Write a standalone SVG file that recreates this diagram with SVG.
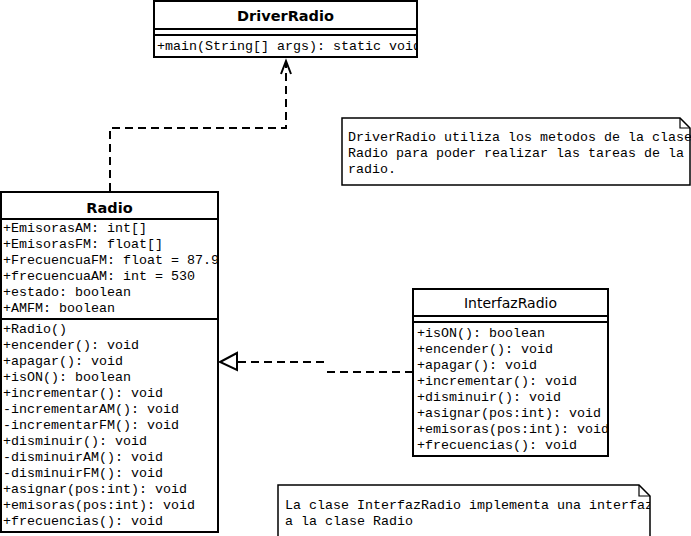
<svg xmlns="http://www.w3.org/2000/svg" width="691" height="536" viewBox="0 0 691 536">
<defs>
<style>
.box{fill:#fff;stroke:#000;stroke-width:2}
.sep{stroke:#000;stroke-width:2}
.title{font-family:"DejaVu Sans",sans-serif;font-size:14.5px;text-anchor:middle;fill:#000}
.b{font-weight:bold}
.m{font-family:"Liberation Mono","Courier New",monospace;font-size:13.33px;fill:#000}
.conn{fill:none;stroke:#000;stroke-width:2;stroke-dasharray:8 5}
.note{fill:#fff;stroke:#000;stroke-width:1.5}
</style>
<clipPath id="cDR"><rect x="154" y="1" width="263" height="56"/></clipPath>
<clipPath id="cR"><rect x="1" y="192" width="217" height="340"/></clipPath>
<clipPath id="cI"><rect x="413" y="289" width="195" height="167"/></clipPath>
<clipPath id="cN1"><rect x="342" y="118" width="349" height="67"/></clipPath>
<clipPath id="cN2"><rect x="278" y="485" width="372" height="51"/></clipPath>
</defs>
<rect width="691" height="536" fill="#fff"/>

<g id="connectors">
<path class="conn" d="M110 191 V128 H286 V63"/>
<path d="M281 74 L286 61 L291 74" fill="none" stroke="#000" stroke-width="2"/>
<path class="conn" d="M413 372 H324 M324 362 H237"/>
<path d="M237 353 L220 362 L237 370 Z" fill="#fff" stroke="#000" stroke-width="2"/>
</g>

<g id="DriverRadio">
<rect class="box" x="154" y="1" width="263" height="56"/>
<line class="sep" x1="154" y1="29" x2="417" y2="29"/>
<line class="sep" x1="154" y1="35" x2="417" y2="35"/>
<text class="title b" x="285.5" y="21">DriverRadio</text>
<g clip-path="url(#cDR)"><text class="m" x="157" y="50">+main(String[] args): static void</text></g>
</g>

<g id="Radio">
<rect class="box" x="1" y="192" width="217" height="340"/>
<line class="sep" x1="1" y1="219" x2="218" y2="219"/>
<line class="sep" x1="1" y1="319" x2="218" y2="319"/>
<text class="title b" x="109.5" y="213">Radio</text>
<g clip-path="url(#cR)" class="m">
<text x="3" y="232">+EmisorasAM: int[]</text>
<text x="3" y="248">+EmisorasFM: float[]</text>
<text x="3" y="264">+FrecuencuaFM: float = 87.9</text>
<text x="3" y="280">+frecuencuaAM: int = 530</text>
<text x="3" y="296">+estado: boolean</text>
<text x="3" y="312">+AMFM: boolean</text>
<text x="3" y="333">+Radio()</text>
<text x="3" y="349">+encender(): void</text>
<text x="3" y="365">+apagar(): void</text>
<text x="3" y="381">+isON(): boolean</text>
<text x="3" y="397">+incrementar(): void</text>
<text x="3" y="413">-incrementarAM(): void</text>
<text x="3" y="429">-incrementarFM(): void</text>
<text x="3" y="445">+disminuir(): void</text>
<text x="3" y="461">-disminuirAM(): void</text>
<text x="3" y="477">-disminuirFM(): void</text>
<text x="3" y="493">+asignar(pos:int): void</text>
<text x="3" y="509">+emisoras(pos:int): void</text>
<text x="3" y="525">+frecuencias(): void</text>
</g>
</g>

<g id="InterfazRadio">
<rect class="box" x="413" y="289" width="195" height="167"/>
<line class="sep" x1="413" y1="316" x2="608" y2="316"/>
<line class="sep" x1="413" y1="322" x2="608" y2="322"/>
<text class="title" x="510.5" y="308" style="font-size:14px">InterfazRadio</text>
<g clip-path="url(#cI)" class="m">
<text x="417" y="337">+isON(): boolean</text>
<text x="417" y="353">+encender(): void</text>
<text x="417" y="369">+apagar(): void</text>
<text x="417" y="385">+incrementar(): void</text>
<text x="417" y="401">+disminuir(): void</text>
<text x="417" y="417">+asignar(pos:int): void</text>
<text x="417" y="433">+emisoras(pos:int): void</text>
<text x="417" y="449">+frecuencias(): void</text>
</g>
</g>

<g id="note1">
<path class="note" d="M342 118 H680 L690 128 V185 H342 Z"/>
<path d="M680 118 V128 H690" fill="none" stroke="#000" stroke-width="1.2"/>
<g clip-path="url(#cN1)" class="m">
<text x="348" y="141">DriverRadio utiliza los metodos de la clase</text>
<text x="348" y="157">Radio para poder realizar las tareas de la</text>
<text x="348" y="173">radio.</text>
</g>
</g>

<g id="note2">
<path class="note" d="M278 485 H639 L650 496 V540 H278 Z"/>
<path d="M639 485 V496 H650" fill="none" stroke="#000" stroke-width="1.2"/>
<g clip-path="url(#cN2)" class="m">
<text x="285" y="509">La clase InterfazRadio implementa una interfaz</text>
<text x="285" y="525">a la clase Radio</text>
</g>
</g>
</svg>
